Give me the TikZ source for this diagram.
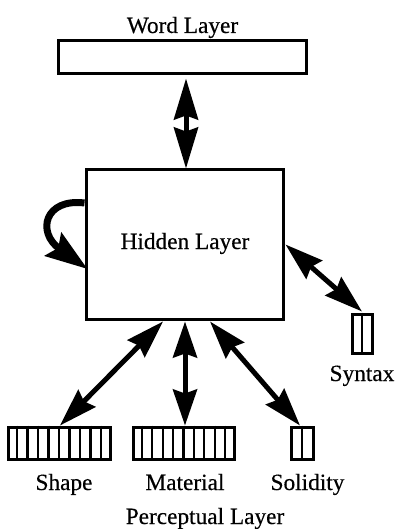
\documentclass[tikz,border=0pt]{standalone}
\usepackage{fontspec}
\setmainfont{Liberation Serif}
\newfontfamily\lblfont{Liberation Serif}[FakeBold=0.4]
\usetikzlibrary{arrows.meta,calc}
\begin{document}
\begin{tikzpicture}[x=1pt,y=-1pt,
  box/.style={draw,line width=3pt,inner sep=0pt,rectangle},
  lbl/.style={anchor=base,inner sep=0pt,font=\lblfont\fontsize{23.3}{27}\selectfont},
  bigarrow/.style={line width=5pt,{Stealth[length=#1,width=24pt,inset=4pt]}-{Stealth[length=#1,width=24pt,inset=4pt]}},
  bigarrow/.default=38pt,
  loopar/.style={line width=7pt,-{Stealth[length=42pt,width=28pt,inset=6pt]}},
  cell/.style={line width=2.2pt}]
\useasboundingbox (0,0) rectangle (397,529);
\node[box,minimum width=248pt,minimum height=33pt] (word) at (182,57.5) {};
\node[box,minimum width=197pt,minimum height=149pt] (hidden) at (184.5,244.5) {};
\node[box,minimum width=102pt,minimum height=32pt] (shape) at (59,443) {};
\node[box,minimum width=101pt,minimum height=32pt] (material) at (183.5,443) {};
\node[box,minimum width=22pt,minimum height=32pt] (solidity) at (302,443) {};
\node[box,minimum width=20pt,minimum height=39pt] (syntax) at (362,333.5) {};
\foreach \i in {1,...,9}{
  \draw[cell] ($(shape.north west)!\i/10!(shape.north east)$) -- ($(shape.south west)!\i/10!(shape.south east)$);
  \draw[cell] ($(material.north west)!\i/10!(material.north east)$) -- ($(material.south west)!\i/10!(material.south east)$);
}
\draw[cell] (solidity.north) -- (solidity.south);
\draw[cell] (syntax.north) -- (syntax.south);
\node[lbl] (wordlbl) at (182.5,33) {Word Layer};
\node[lbl] (hiddenlbl) at (185,249) {Hidden Layer};
\node[lbl] (syntaxlbl) at (362,381) {Syntax};
\node[lbl] (shapelbl) at (64,490) {Shape};
\node[lbl] (materiallbl) at (185,490) {Material};
\node[lbl] (soliditylbl) at (307.5,490) {Solidity};
\node[lbl] (perclbl) at (205,524) {Perceptual Layer};
\draw[bigarrow=41pt] ($(word.south -| hidden.north)+(1.5,3)$) -- ($(hidden.north)+(1.5,0)$);
\draw[bigarrow] ($(hidden.south)+(-21.5,1)$) -- ($(shape.north)+(1,0)$);
\draw[bigarrow=36pt] ($(hidden.south)+(0.5,1)$) -- ($(material.north)+(1.5,0)$);
\draw[bigarrow] ($(hidden.south)+(25.5,1)$) -- ($(solidity.north)+(-2,0)$);
\draw[bigarrow] ($(hidden.east)+(1,0)$) -- ($(syntax.north)+(0,-1)$);
\draw[loopar] ($(hidden.west)+(0,-41.5)$) .. controls (45,198) and (36,232) .. ($(hidden.west)+(3,24.5)$);
\end{tikzpicture}
\end{document}
